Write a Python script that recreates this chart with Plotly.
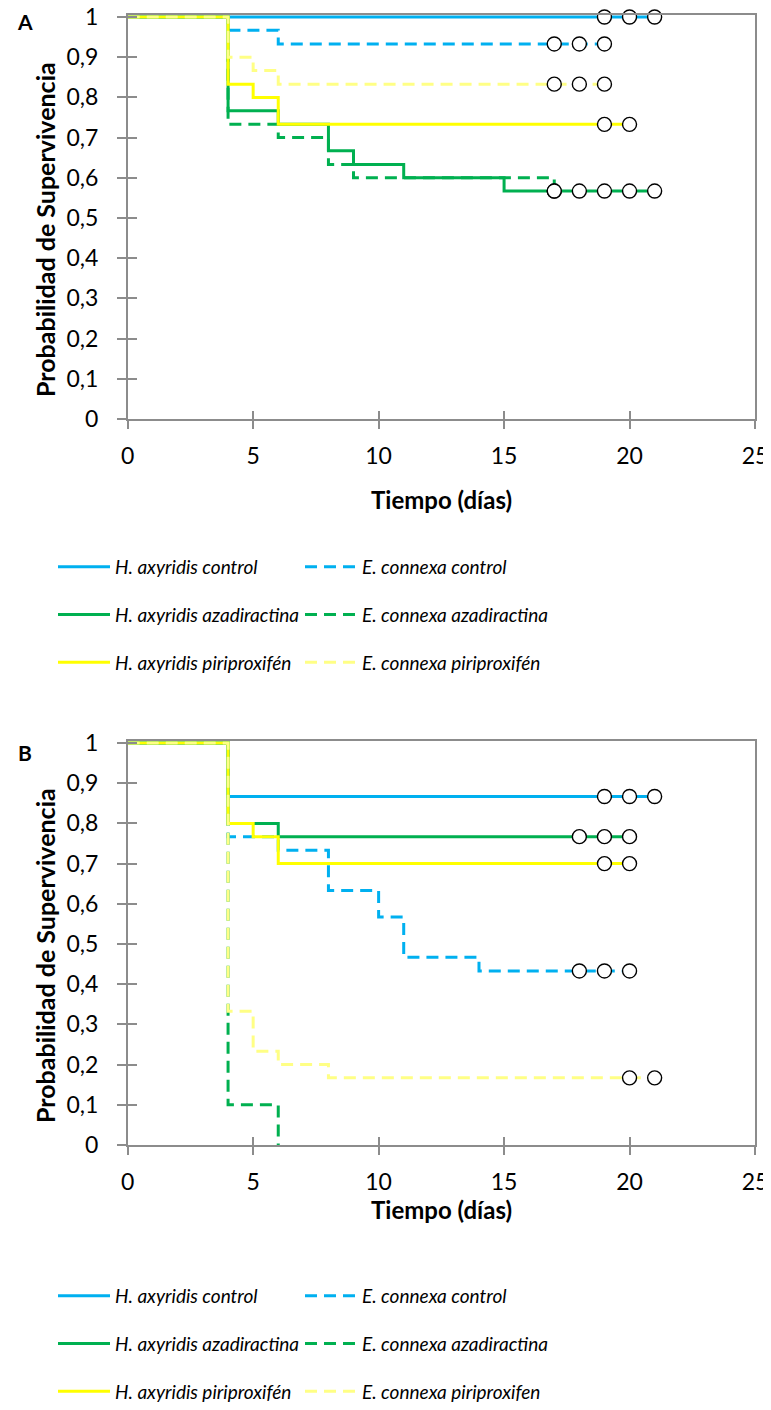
import plotly.graph_objects as go

# --- DATA (Kaplan-Meier steps) ---
SERIES_NAMES = ["H. axyridis control", "E. connexa control",
                "H. axyridis azadiractina", "E. connexa azadiractina",
                "H. axyridis piriproxifén", "E. connexa piriproxifén"]
SERIES_NAMES_B = ["H. axyridis control", "E. connexa control",
                  "H. axyridis azadiractina", "E. connexa azadiractina",
                  "H. axyridis piriproxifén", "E. connexa piriproxifen"]

# panel A
a_h_ctrl_t = [0, 21]
a_h_ctrl_s = [1, 1]
a_h_ctrl_cens = [19, 20, 21]
a_e_ctrl_t = [0, 4, 6, 19]
a_e_ctrl_s = [1, 0.967, 0.933, 0.933]
a_e_ctrl_cens = [17, 18, 19]
a_h_aza_t = [0, 4, 6, 8, 9, 11, 15, 21]
a_h_aza_s = [1, 0.767, 0.733, 0.667, 0.633, 0.6, 0.567, 0.567]
a_h_aza_cens = [17, 18, 19, 20, 21]
a_e_aza_t = [0, 4, 6, 8, 9, 17]
a_e_aza_s = [1, 0.733, 0.7, 0.633, 0.6, 0.567]
a_e_aza_cens = [17]
a_h_piri_t = [0, 4, 5, 6, 20]
a_h_piri_s = [1, 0.833, 0.8, 0.733, 0.733]
a_h_piri_cens = [19, 20]
a_e_piri_t = [0, 4, 5, 6, 19]
a_e_piri_s = [1, 0.9, 0.867, 0.833, 0.833]
a_e_piri_cens = [17, 18, 19]

# panel B
b_h_ctrl_t = [0, 4, 21]
b_h_ctrl_s = [1, 0.867, 0.867]
b_h_ctrl_cens = [19, 20, 21]
b_e_ctrl_t = [0, 4, 6, 8, 10, 11, 14, 20]
b_e_ctrl_s = [1, 0.767, 0.733, 0.633, 0.567, 0.467, 0.433, 0.433]
b_e_ctrl_cens = [18, 19, 20]
b_h_aza_t = [0, 4, 6, 20]
b_h_aza_s = [1, 0.8, 0.767, 0.767]
b_h_aza_cens = [18, 19, 20]
b_e_aza_t = [0, 4, 6]
b_e_aza_s = [1, 0.1, 0]
b_e_aza_cens = []
b_h_piri_t = [0, 4, 5, 6, 20]
b_h_piri_s = [1, 0.8, 0.767, 0.7, 0.7]
b_h_piri_cens = [19, 20]
b_e_piri_t = [0, 4, 5, 6, 8, 21]
b_e_piri_s = [1, 0.333, 0.233, 0.2, 0.167, 0.167]
b_e_piri_cens = [20, 21]

Y_TICKS = [0, 0.1, 0.2, 0.3, 0.4, 0.5, 0.6, 0.7, 0.8, 0.9, 1]
X_TICKS = [0, 5, 10, 15, 20, 25]

# --- STYLE ---
# the page body keeps its 8px margin, so the figure is drawn 8px smaller
OFF = 8
W, H = 771 - OFF, 1410 - OFF
FONT = "Lato"
BLUE, GREEN, YELLOW, PALE = "#00B0F0", "#00B050", "#FFFF00", "#FFFF85"
AXIS_GRAY = "#8C8C8C"
DASH = "12px,7px"
styles = [(BLUE, "solid"), (BLUE, DASH), (GREEN, "solid"), (GREEN, DASH),
          (YELLOW, "solid"), (PALE, DASH)]
Y_TOP = 1.005  # a hair above 1 so lines at 1 are not half clipped


def px_x(p):
    return (p - OFF) / W


def px_y(p):
    return 1 - (p - OFF) / H


panel_a = [(a_h_ctrl_t, a_h_ctrl_s, a_h_ctrl_cens), (a_e_ctrl_t, a_e_ctrl_s, a_e_ctrl_cens),
           (a_h_aza_t, a_h_aza_s, a_h_aza_cens), (a_e_aza_t, a_e_aza_s, a_e_aza_cens),
           (a_h_piri_t, a_h_piri_s, a_h_piri_cens), (a_e_piri_t, a_e_piri_s, a_e_piri_cens)]
panel_b = [(b_h_ctrl_t, b_h_ctrl_s, b_h_ctrl_cens), (b_e_ctrl_t, b_e_ctrl_s, b_e_ctrl_cens),
           (b_h_aza_t, b_h_aza_s, b_h_aza_cens), (b_e_aza_t, b_e_aza_s, b_e_aza_cens),
           (b_h_piri_t, b_h_piri_s, b_h_piri_cens), (b_e_piri_t, b_e_piri_s, b_e_piri_cens)]

fig = go.Figure()

panels = [(panel_a, SERIES_NAMES, "x", "y", ["legend", "legend2"], "A"),
          (panel_b, SERIES_NAMES_B, "x2", "y2", ["legend3", "legend4"], "B")]

for data, names, xa, ya, legs, tag in panels:
    # lines first
    for i, (t, s, cens) in enumerate(data):
        color, dash = styles[i]
        fig.add_trace(go.Scatter(
            x=t, y=s, mode="lines", line_shape="hv", name=names[i],
            line=dict(color=color, width=3, dash=dash),
            xaxis=xa, yaxis=ya, legend=legs[i % 2],
            legendgroup=tag + str(i), hoverinfo="skip"))
    # censored observations
    for i, (t, s, cens) in enumerate(data):
        if not cens:
            continue
        fig.add_trace(go.Scatter(
            x=cens, y=[s[-1]] * len(cens), mode="markers", showlegend=False,
            marker=dict(size=14, color="white", line=dict(color="black", width=1.4)),
            xaxis=xa, yaxis=ya, cliponaxis=False, hoverinfo="skip"))

# empty traces so the overlay (inner tick) axes get drawn
for xa, ya in [("x3", "y"), ("x", "y3"), ("x4", "y2"), ("x2", "y4")]:
    fig.add_trace(go.Scatter(x=[], y=[], xaxis=xa, yaxis=ya, showlegend=False))

x_dom = [px_x(127.7), px_x(755)]
extra = (Y_TOP - 1) * 402
dom_a = [px_y(419), px_y(17 - extra)]
dom_b = [px_y(1145), px_y(743 - extra)]

tick_font = dict(family=FONT, size=23, color="black")
common_x = dict(range=[0, 25], tickvals=X_TICKS, showgrid=False, zeroline=False,
                ticks="outside", ticklen=8, tickcolor=AXIS_GRAY, tickwidth=1.5,
                showline=True, mirror=True, linecolor=AXIS_GRAY, linewidth=1.5,
                tickfont=tick_font, ticklabelstandoff=8, domain=x_dom,
                automargin=False, ticklabeloverflow="allow")
common_y = dict(range=[0, Y_TOP], tickvals=Y_TICKS, showgrid=False, zeroline=False,
                ticks="outside", ticklen=9, tickcolor=AXIS_GRAY, tickwidth=1.5,
                showline=True, mirror=True, linecolor=AXIS_GRAY, linewidth=1.5,
                tickfont=tick_font, ticklabelstandoff=14,
                automargin=False, ticklabeloverflow="allow")
inner_x = dict(range=[0, 25], tickvals=X_TICKS, showgrid=False, zeroline=False,
               ticks="inside", ticklen=8, tickcolor=AXIS_GRAY, tickwidth=1.5,
               showline=False, showticklabels=False, domain=x_dom, automargin=False)
inner_y = dict(range=[0, Y_TOP], tickvals=Y_TICKS, showgrid=False, zeroline=False,
               ticks="inside", ticklen=9, tickcolor=AXIS_GRAY, tickwidth=1.5,
               showline=False, showticklabels=False, automargin=False)

legend_common = dict(orientation="v", xanchor="left", yanchor="top",
                     bgcolor="rgba(0,0,0,0)", itemwidth=52, tracegroupgap=20,
                     font=dict(family=FONT, size=19, color="black", style="italic"),
                     itemclick=False, itemdoubleclick=False)

fig.update_layout(
    width=W, height=H,
    margin=dict(l=0, r=0, t=0, b=0, autoexpand=False),
    paper_bgcolor="white", plot_bgcolor="white",
    separators=",.",
    font=dict(family=FONT, color="black"),
    xaxis=dict(anchor="y", **common_x),
    yaxis=dict(anchor="x", domain=dom_a, **common_y),
    xaxis2=dict(anchor="y2", **common_x),
    yaxis2=dict(anchor="x2", domain=dom_b, **common_y),
    xaxis3=dict(overlaying="x", anchor="y", **inner_x),
    yaxis3=dict(overlaying="y", anchor="x", **inner_y),
    xaxis4=dict(overlaying="x2", anchor="y2", **inner_x),
    yaxis4=dict(overlaying="y2", anchor="x2", **inner_y),
    legend=dict(x=px_x(53), y=px_y(548), **legend_common),
    legend2=dict(x=px_x(300), y=px_y(548), **legend_common),
    legend3=dict(x=px_x(53), y=px_y(1277), **legend_common),
    legend4=dict(x=px_x(300), y=px_y(1277), **legend_common),
    showlegend=True,
)

title_font = dict(family=FONT, size=24, color="black", weight="bold")
annos = [
    ("A", 25, 21.5, 0, 21), ("B", 25, 752, 0, 21),
    ("Probabilidad de Supervivencia", 45, 230, -90, 25),
    ("Probabilidad de Supervivencia", 45, 956, -90, 25),
    ("Tiempo (días)", 441, 500, 0, 24),
    ("Tiempo (días)", 441, 1209, 0, 24),
]
for text, xp, yp, ang, fs in annos:
    fig.add_annotation(text=text, x=px_x(xp), y=px_y(yp), xref="paper", yref="paper",
                       xanchor="center", yanchor="middle", showarrow=False,
                       textangle=ang, font=dict(title_font, size=fs))

fig.write_html("out.html")
